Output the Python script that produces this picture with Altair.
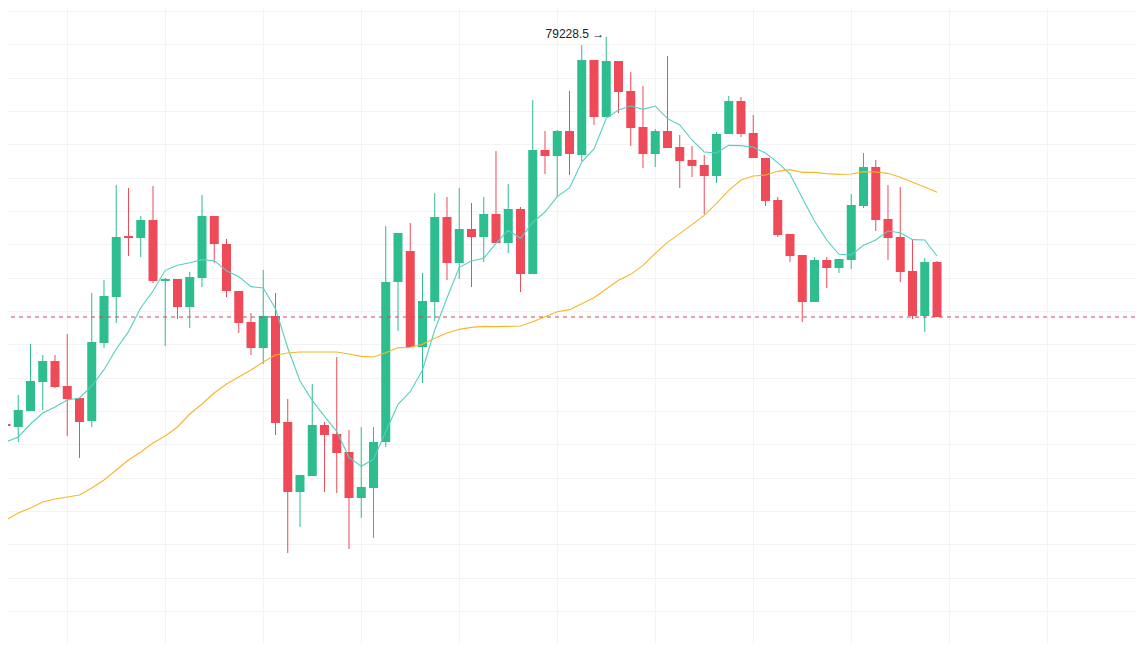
import altair as alt
import pandas as pd

# ---- data (price values) ----
opens = [67610, 67520, 68000, 68870, 69500, 68750, 68390, 67700, 70040, 71420,
         73250, 73190, 73730, 71900, 71960, 71120, 71990, 73850, 73010, 71600,
         70670, 69890, 70850, 67670, 65570, 66050, 67580, 67310, 66770, 65390,
         65690, 67070, 71870, 72800, 69920, 71270, 73820, 72440, 73460, 73220,
         73910, 73040, 74060, 72110, 75830, 75650, 76400, 75680, 78530, 76820,
         78500, 77600, 76520, 75710, 76400, 75920, 75530, 75380, 75050, 76310,
         77300, 76340, 75590, 74330, 73310, 72680, 71270, 72530, 72290, 72530,
         74150, 75320, 73760, 73220, 72200, 70850, 72470]

highs = [68060, 68480, 70010, 69680, 69680, 70310, 68390, 71540, 71930, 74780,
         74690, 73850, 74750, 71990, 71960, 72170, 74480, 73850, 73160, 71600,
         70940, 72230, 71540, 68360, 66080, 68810, 67670, 69620, 67430, 67520,
         67520, 73550, 73340, 73640, 72140, 74540, 74420, 74690, 74240, 74420,
         75800, 74810, 74120, 77330, 76400, 76430, 77600, 78980, 78530, 79228.5,
         78500, 78170, 77750, 76460, 78650, 76280, 75950, 75680, 76370, 77450,
         77420, 76880, 75590, 74420, 73310, 72680, 72620, 72620, 72560, 74510,
         75740, 75530, 74780, 74720, 73160, 72590, 72500]

lows = [66890, 67070, 68000, 68030, 68690, 67250, 66590, 67520, 69890, 70640,
        72650, 72620, 71840, 69950, 70760, 70490, 71720, 72440, 71420, 70340,
        69680, 69410, 67280, 63740, 64520, 66050, 65570, 65540, 63860, 64790,
        64190, 66920, 70400, 69890, 68840, 70700, 71930, 71960, 71720, 72470,
        73040, 72740, 71570, 72110, 75110, 74420, 75080, 75500, 76580, 76820,
        76940, 75950, 75290, 75320, 75890, 74690, 75020, 73910, 74840, 76310,
        76220, 75590, 74150, 73220, 72470, 70670, 71270, 71690, 72140, 72260,
        74090, 73400, 72530, 71870, 70760, 70370, 70880]

closes = [67550, 68030, 68900, 69500, 68720, 68360, 67670, 70070, 71450, 73220,
          73190, 73730, 71900, 71960, 71120, 72020, 73850, 73010, 71600, 70640,
          69890, 70850, 67640, 65570, 66080, 67580, 67280, 66740, 65390, 65720,
          67070, 71870, 73340, 69920, 71300, 73820, 72440, 73460, 73220, 73910,
          73040, 74060, 72110, 75830, 75650, 76400, 75710, 78530, 76820, 78500,
          77570, 76490, 75710, 76400, 75890, 75500, 75350, 75050, 76310, 77300,
          76310, 75590, 74300, 73280, 72650, 71270, 72530, 72290, 72560, 74180,
          75320, 73730, 73190, 72170, 70850, 72470, 70820]

# moving averages, starting one bar before the first visible candle
ma7 = [66650, 67070, 67220, 67610, 67940, 68120, 68330, 68390, 68750, 69240,
       69860, 70380, 71100, 71600, 72220, 72370, 72450, 72540, 72510, 72210,
       72030, 71730, 71690, 71070, 69890, 68900, 68320, 67840, 67390, 66610,
       66340, 66550, 67380, 68200, 68580, 69230, 70430, 71390, 72310, 72500,
       72580, 73030, 73420, 73180, 73660, 73970, 74430, 74690, 75470, 75860,
       76780, 77030, 77150, 77050, 77150, 76770, 76580, 76130, 75770, 75740,
       75970, 75960, 75920, 75740, 75450, 75110, 74390, 73700, 73130, 72700,
       72680, 72970, 73130, 73400, 73350, 73140, 73130, 72650]

ma30 = [64580, 64730, 64940, 65090, 65270, 65360, 65420, 65480, 65690, 65930,
        66230, 66530, 66770, 67040, 67250, 67520, 67910, 68210, 68540, 68810,
        69020, 69230, 69470, 69680, 69740, 69770, 69770, 69770, 69770, 69710,
        69640, 69620, 69750, 69900, 69910, 70000, 70180, 70340, 70450, 70510,
        70540, 70530, 70540, 70550, 70680, 70830, 70980, 71040, 71220, 71400,
        71660, 71920, 72100, 72370, 72730, 73060, 73320, 73590, 73870, 74230,
        74620, 74930, 75050, 75080, 75190, 75240, 75160, 75160, 75120, 75100,
        75110, 75180, 75170, 75130, 75010, 74860, 74720, 74560]

grid_x = [5, 13, 21, 29, 37, 45, 53, 61, 69, 77, 85]
grid_y = list(range(62000, 80001, 1000))

GREEN = "#2DBD8F"
RED = "#EE4A58"
TEAL = "#55CFC2"
ORANGE = "#F5B82A"
GRID = "#F3F3F3"

W, H = 1127, 636
X_DOMAIN = [0.1633, 0.1633 + W / 12.25]
Y_DOMAIN = [80090 - 30 * H, 80090]

# ---- tables ----
candles = pd.DataFrame({
    "idx": list(range(len(opens))),
    "open": opens, "high": highs, "low": lows, "close": closes,
})
candles["dir"] = ["up" if c >= o else "down" for o, c in zip(opens, closes)]

ma_idx = list(range(-1, len(opens)))
ma_df = pd.DataFrame({"idx": ma_idx, "ma7": ma7, "ma30": ma30})

peak_i = max(range(len(highs)), key=lambda k: highs[k])
peak_df = pd.DataFrame({"idx": [peak_i], "price": [highs[peak_i]],
                        "label": [f"{highs[peak_i]} \u2192"]})
last_df = pd.DataFrame({"price": [closes[-1]]})


def X(field="idx"):
    return alt.X(f"{field}:Q",
                 scale=alt.Scale(domain=X_DOMAIN, nice=False, zero=False, padding=0),
                 axis=alt.Axis(values=grid_x, grid=True, labels=False, ticks=False,
                               domain=False, title=None, gridColor=GRID, gridWidth=1))


def Y(field):
    return alt.Y(f"{field}:Q",
                 scale=alt.Scale(domain=Y_DOMAIN, nice=False, zero=False, padding=0),
                 axis=alt.Axis(values=grid_y, grid=True, labels=False, ticks=False,
                               domain=False, title=None, gridColor=GRID, gridWidth=1))


color = alt.Color("dir:N", scale=alt.Scale(domain=["up", "down"], range=[GREEN, RED]),
                  legend=None)

base = alt.Chart(candles)
wicks = base.mark_rule(strokeWidth=1).encode(x=X(), y=Y("low"), y2="high", color=color)
bodies = base.mark_bar(size=9).encode(x=X(), y=Y("open"), y2="close", color=color)

line7 = alt.Chart(ma_df).mark_line(color=TEAL, strokeWidth=1.1, clip=True).encode(
    x=X(), y=Y("ma7"))
line30 = alt.Chart(ma_df).mark_line(color=ORANGE, strokeWidth=1.1, clip=True).encode(
    x=X(), y=Y("ma30"))

last_rule = alt.Chart(last_df).mark_rule(color="#CF4652", strokeWidth=1,
                                         strokeDash=[4, 4]).encode(y=Y("price"))

peak_text = alt.Chart(peak_df).mark_text(align="right", baseline="middle", dx=-2, dy=-3,
                                         fontSize=12, font="Liberation Sans",
                                         color="#222222").encode(
    x=X(), y=Y("price"), text="label:N")

chart = alt.layer(wicks, bodies, line7, line30, last_rule, peak_text).properties(
    width=W, height=H, padding=0, background="white",
    autosize=alt.AutoSizeParams(type="none"),
).configure_view(stroke=None)

chart.save("out.html", embed_options={"renderer": "svg", "actions": False})
